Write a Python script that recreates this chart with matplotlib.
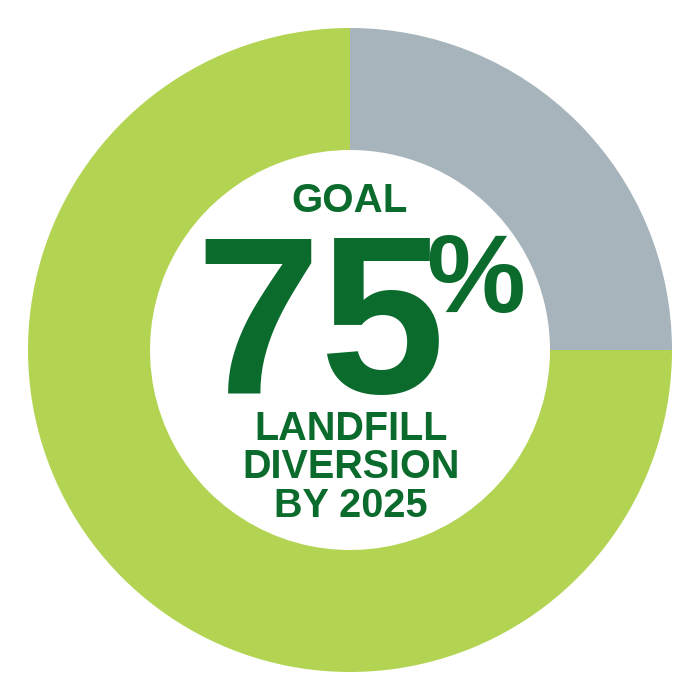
import matplotlib.pyplot as plt

# donut values (share of goal)
labels = ['remaining', 'diversion goal']
values = [25, 75]
colors = ['#A7B4BC', '#B2D452']

headline = 'GOAL'
big_number = '75'
big_unit = '%'
footer_lines = ['LANDFILL', 'DIVERSION', 'BY 2025']

text_color = '#0A6B2C'
R = 322.0  # outer radius in pixels


def py(y_px):
    # pixel row -> data y (pie radius 1)
    return (350 - y_px) / R


def px(x_px):
    return (x_px - 350) / R


fig = plt.figure(figsize=(7, 7), dpi=100)
ax = fig.add_axes([0, 0, 1, 1])
ax.pie(values, colors=colors, startangle=90, counterclock=False,
       wedgeprops=dict(width=122 / R, linewidth=0))
ax.set_xlim(-350 / R, 350 / R)
ax.set_ylim(-350 / R, 350 / R)
ax.set_aspect('equal')
ax.axis('off')

wide = ['Liberation Sans', 'DejaVu Sans']
narrow = ['Liberation Sans Narrow', 'Liberation Sans', 'DejaVu Sans']

ax.text(px(350), py(212), headline, ha='center', va='baseline',
        fontsize=29, fontweight='bold', color=text_color, family=wide)
ax.text(px(320), py(393), big_number, ha='center', va='baseline',
        fontsize=162, fontweight='bold', color=text_color, family=narrow)
ax.text(px(476), py(312), big_unit, ha='center', va='baseline',
        fontsize=80, fontweight='bold', color=text_color, family=narrow)

baselines = [440, 478, 517]
for line, yb in zip(footer_lines, baselines):
    ax.text(px(351), py(yb), line, ha='center', va='baseline',
            fontsize=28.5, fontweight='bold', color=text_color, family=wide)

fig.savefig('out.png', dpi=100, facecolor='white')
